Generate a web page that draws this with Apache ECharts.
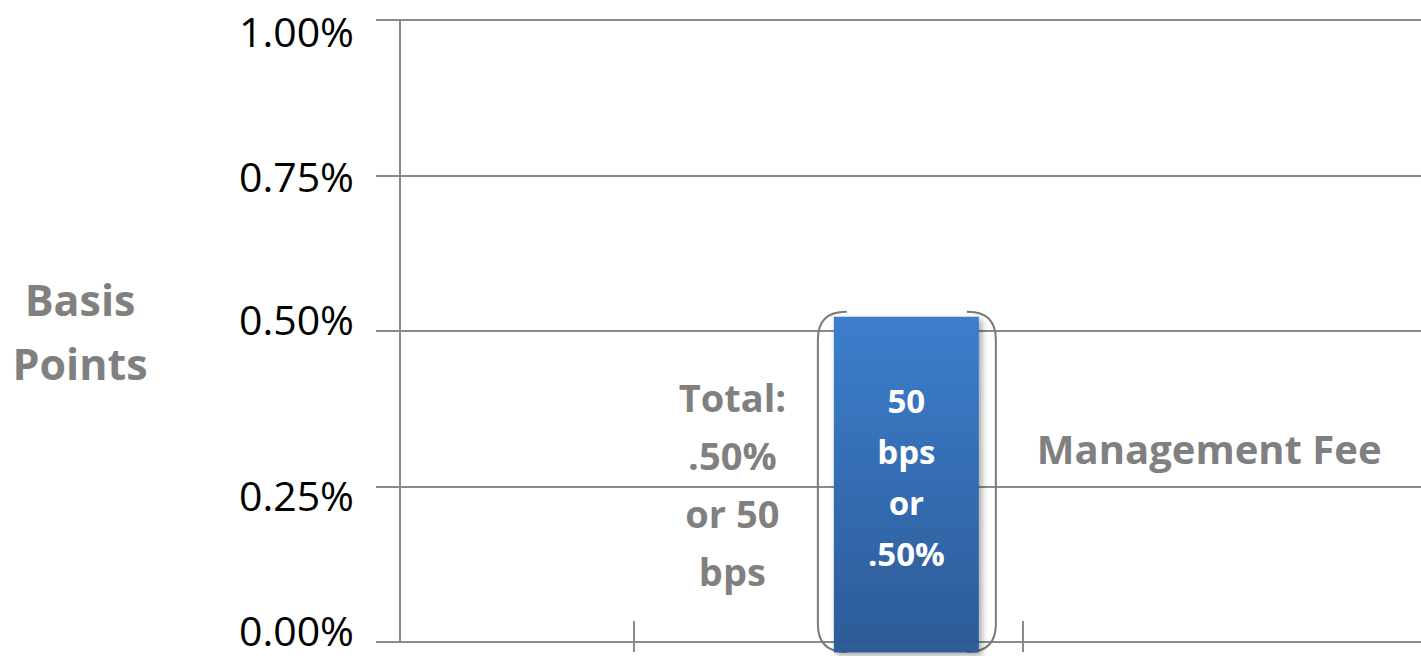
<!DOCTYPE html>
<html><head><meta charset="utf-8">
<script src="https://cdn.jsdelivr.net/npm/echarts@6/dist/echarts.min.js"></script>
<style>html,body{margin:0;padding:0;background:#fff}#c{width:1421px;height:656px}</style>
</head><body><div id="c"></div>
<script>
// category slots along the x axis (only one holds a bar)
const categories = ['s0','s1','s2','s3','s4','s5','Management Fee','s7','s8','s9','s10','s11','s12','s13'];
const feeValues   = ['-','-','-','-','-','-',0.523,'-','-','-','-','-','-','-'];
const belowAxis   = ['-','-','-','-','-','-',-0.017,'-','-','-','-','-','-','-'];
const yTickValues = [0, 0.25, 0.5, 0.75, 1.0];
const yTickLabels = ['0.00%','0.25%','0.50%','0.75%','1.00%'];
const tickedBoundaries = [3, 8];
const axisTitle = ['Basis', 'Points'];
const barText = ['50', 'bps', 'or', '.50%'];
const totalText = ['Total:', '.50%', 'or 50', 'bps'];
const seriesName = 'Management Fee';

const GRAY = '#808080';
const LINE = '#8a8a8a';
const FONT = '"Open Sans", sans-serif';
const barIndex = categories.indexOf(seriesName);
const labelStyleKeys = ['l0', 'l1', 'l2', 'l3', 'l4'];

const chart = echarts.init(document.getElementById('c'), null, {renderer: 'svg'});
chart.setOption({
  animation: false,
  backgroundColor: '#fff',
  grid: {left: 400, top: 20, width: 1090.6, height: 622, containLabel: false, outerBoundsMode: 'none'},
  xAxis: [{
    type: 'category', data: categories, position: 'bottom',
    axisLine: {lineStyle: {color: LINE, width: 2}},
    axisTick: {show: false}, axisLabel: {show: false}, splitLine: {show: false}
  }, {
    type: 'category', data: categories, position: 'bottom', offset: -21,
    axisLine: {show: false}, axisLabel: {show: false}, splitLine: {show: false},
    axisTick: {show: true, length: 31, lineStyle: {color: LINE, width: 2},
      interval: (i) => tickedBoundaries.includes(i)}
  }],
  yAxis: {
    type: 'value', min: 0, max: 1, interval: 0.25,
    name: axisTitle.join('\n'), nameLocation: 'middle', nameRotate: 0, nameGap: 320,
    nameTextStyle: {color: GRAY, fontFamily: FONT, fontWeight: 'bold', fontSize: 43, lineHeight: 64, align: 'center', verticalAlign: 'middle'},
    axisLine: {show: true, lineStyle: {color: LINE, width: 2}},
    axisTick: {show: true, length: 24, lineStyle: {color: LINE, width: 2}},
    splitLine: {show: true, lineStyle: {color: LINE, width: 2}},
    axisLabel: {margin: 46, color: '#000', fontFamily: FONT, fontSize: 41,
      formatter: (v) => {
        const i = yTickValues.indexOf(v);
        return i < 0 ? '' : '{' + labelStyleKeys[i] + '|' + yTickLabels[i] + '}';
      },
      rich: {
        l0: {color: '#000', fontFamily: FONT, fontSize: 41, padding: [0, 0, 25, 0]},
        l1: {color: '#000', fontFamily: FONT, fontSize: 41, padding: [17, 0, 0, 0]},
        l2: {color: '#000', fontFamily: FONT, fontSize: 41, padding: [0, 0, 24, 0]},
        l3: {color: '#000', fontFamily: FONT, fontSize: 41, padding: [0, 0, 0, 0]},
        l4: {color: '#000', fontFamily: FONT, fontSize: 41, padding: [22, 0, 0, 0]}
      }
    }
  },
  series: [{
    type: 'custom', z: 1, xAxisIndex: 0, silent: true,
    data: [[barIndex, feeValues[barIndex]]],
    renderItem: (params, api) => {
      const top = api.coord([api.value(0), api.value(1)]);
      const base = api.coord([api.value(0), 0]);
      const cx = top[0], half = 72.5;
      const L = cx - half - 16, R = cx + half + 17;
      const T = top[1] - 5, B = base[1] + 10;
      const r = 28, h = 29;
      const mid = (top[1] + base[1]) / 2;
      const st = {fill: 'none', stroke: '#7a7a7a', lineWidth: 2};
      return {type: 'group', children: [
        {type: 'path', shape: {pathData: `M${L+h} ${T} L${L+r} ${T} Q${L} ${T} ${L} ${T+r} L${L} ${B-r} Q${L} ${B} ${L+r} ${B} L${L+h} ${B}`}, style: st},
        {type: 'path', shape: {pathData: `M${R-h} ${T} L${R-r} ${T} Q${R} ${T} ${R} ${T+r} L${R} ${B-r} Q${R} ${B} ${R-r} ${B} L${R-h} ${B}`}, style: st},
        {type: 'text', x: cx - 174, y: mid + 5, style: {text: totalText.join('\n'), fill: GRAY,
          fontFamily: FONT, fontWeight: 'bold', fontSize: 38, lineHeight: 58, align: 'center', verticalAlign: 'middle'}},
        {type: 'text', x: R + 41, y: mid - 31, style: {text: seriesName, fill: GRAY,
          fontFamily: FONT, fontWeight: 'bold', fontSize: 40, align: 'left', verticalAlign: 'middle'}}
      ]};
    }
  }, {
    name: seriesName, type: 'bar', stack: 'fee', z: 3, barWidth: 145, clip: false,
    data: feeValues,
    itemStyle: {
      color: new echarts.graphic.LinearGradient(0, 0, 0, 1, [
        {offset: 0, color: '#3c7ecc'}, {offset: 1, color: '#2d5c99'}]),
      shadowBlur: 6, shadowColor: 'rgba(0,0,0,0.35)', shadowOffsetX: 3, shadowOffsetY: 3
    },
    label: {show: true, position: 'inside', offset: [0, -2], formatter: () => barText.join('\n'),
      color: '#fff', fontFamily: FONT, fontWeight: 'bold', fontSize: 33, lineHeight: 51}
  }, {
    name: seriesName + ' (base)', type: 'bar', stack: 'fee', z: 3, barWidth: 145, clip: false,
    data: belowAxis,
    itemStyle: {color: '#2d5b97', shadowBlur: 6, shadowColor: 'rgba(0,0,0,0.35)', shadowOffsetX: 3, shadowOffsetY: 3}
  }]
});
</script></body></html>
